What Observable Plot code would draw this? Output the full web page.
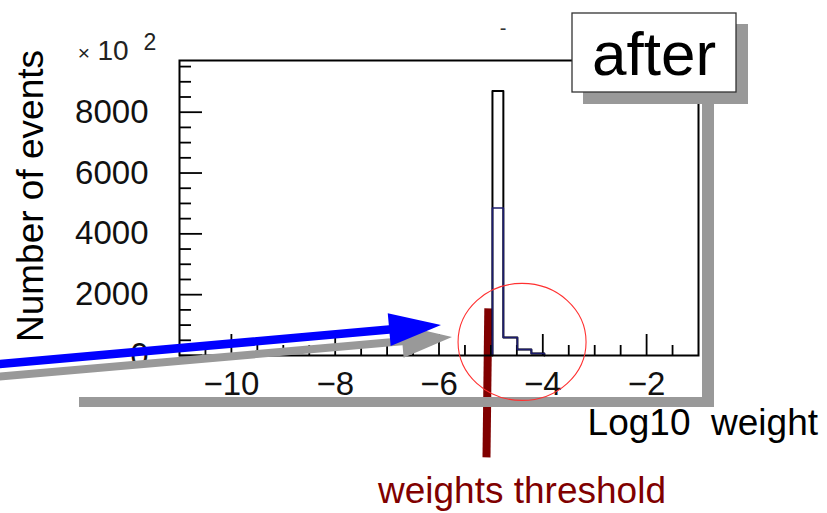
<!DOCTYPE html>
<html>
<head>
<meta charset="utf-8">
<script src="https://cdn.jsdelivr.net/npm/d3@7"></script>
<script src="https://cdn.jsdelivr.net/npm/@observablehq/plot@0.6"></script>
<style>
  html, body { margin: 0; padding: 0; background: #fff; }
  #chart { width: 827px; height: 513px; }
</style>
</head>
<body>
<div id="chart"></div>
<script>
// ---- data ----
const binEdges = [-4.97, -4.76, -4.49, -4.22, -3.97];     // Log10 weight bin edges
const countsAfter = [8700, 590, 197, 66];                  // black histogram
const countsOverlay = [4850, 590, 197, 66];                // navy overlay histogram
const xTicksMajor = [-10, -8, -6, -4, -2];
const xTicksMinor = [-10.5, -9.5, -9, -8.5, -7.5, -7, -6.5, -5.5, -5, -4.5, -3.5, -3, -2.5, -1.5];
const yTicksMajor = [0, 2000, 4000, 6000, 8000];
const yTicksMinor = [500, 1000, 1500, 2500, 3000, 3500, 4500, 5000, 5500, 6500, 7000, 7500, 8500, 9000, 9500];
const thresholdX = [-5.05, -5.085];       // threshold marker (top, bottom) in Log10 weight
const thresholdY = [1550, -3350];
const tailCenter = [-4.39, 430];          // centre of the red ring around the tail

// ---- helpers ----
function stepPoints(edges, counts) {
  const pts = [{x: edges[0], y: 0}];
  counts.forEach((c, i) => pts.push({x: edges[i + 1], y: c}));
  pts.push({x: edges[edges.length - 1], y: 0});
  return pts;
}
const fmt = d => d < 0 ? "\u2212" + Math.abs(d) : String(d);
const FONT = "'Liberation Sans', Arial, Helvetica, sans-serif";

const plot = Plot.plot({
  width: 827,
  height: 513,
  marginLeft: 179,
  marginRight: 129,
  marginTop: 60,
  marginBottom: 158,
  x: {domain: [-11, -1]},
  y: {domain: [0, 9700]},
  style: {fontFamily: FONT, background: "white", color: "black"},
  marks: [
    // threshold marker (behind histogram)
    Plot.link([0], {
      x1: () => thresholdX[0], y1: () => thresholdY[0],
      x2: () => thresholdX[1], y2: () => thresholdY[1],
      stroke: "#800000", strokeWidth: 8
    }),
    // ticks inside the frame
    Plot.axisY(yTicksMajor, {tickSize: 23, dx: 23, fill: "none", strokeWidth: 1.8, label: null}),
    Plot.axisY(yTicksMinor, {tickSize: 12, dx: 12, fill: "none", strokeWidth: 1.8, label: null}),
    Plot.axisX(xTicksMajor, {anchor: "bottom", tickSize: 21, dy: -21, fill: "none", strokeWidth: 1.8, label: null}),
    Plot.axisX(xTicksMinor, {anchor: "bottom", tickSize: 10, dy: -10, fill: "none", strokeWidth: 1.8, label: null}),
    // tick labels
    Plot.axisY(yTicksMajor, {tickSize: 0, tickPadding: 31, fontSize: 33, fill: "#111", tickFormat: fmt, label: null}),
    Plot.axisX(xTicksMajor, {anchor: "bottom", tickSize: 0, tickPadding: 16, fontSize: 33, fill: "#111", tickFormat: fmt, label: null}),
    // histograms
    Plot.line(stepPoints(binEdges, countsAfter), {x: "x", y: "y", curve: "step-before", stroke: "black", strokeWidth: 2}),
    Plot.line(stepPoints(binEdges, countsOverlay), {x: "x", y: "y", curve: "step-before", stroke: "#1c1c6e", strokeWidth: 1.6}),
    Plot.frame({stroke: "black", strokeWidth: 2})
  ]
});

document.getElementById("chart").appendChild(plot);

// ---- decorations (pad shadow, labels, title box, arrows, ring) ----
const svg = d3.select(plot);
const sx = plot.scale("x"), sy = plot.scale("y");
const g = svg.append("g").attr("font-family", FONT);

// pad shadow
g.append("rect").attr("x", 702).attr("y", 100).attr("width", 12).attr("height", 307).attr("fill", "#999");
g.append("rect").attr("x", 79).attr("y", 397).attr("width", 635).attr("height", 10).attr("fill", "#999");

// "after" title box
g.append("rect").attr("x", 583).attr("y", 24).attr("width", 165).attr("height", 80).attr("fill", "#999");
g.append("rect").attr("x", 572).attr("y", 13).attr("width", 164).attr("height", 79)
  .attr("fill", "white").attr("stroke", "#333").attr("stroke-width", 1.3);
g.append("text").attr("x", 654).attr("y", 75).attr("text-anchor", "middle")
  .attr("font-size", 62).attr("fill", "black").text("after");

// small mark at top
g.append("text").attr("x", 503).attr("y", 35).attr("text-anchor", "middle")
  .attr("font-size", 20).attr("fill", "#333").text("-");

// x 10^2 multiplier
g.append("text").attr("x", 84).attr("y", 60).attr("font-size", 21).attr("fill", "#222").text("\u00d7");
g.append("text").attr("x", 113).attr("y", 60).attr("font-size", 28).attr("fill", "#222").text("10");
g.append("text").attr("x", 150).attr("y", 50).attr("font-size", 23).attr("fill", "#222").text("2");

// axis titles
g.append("text").attr("transform", "translate(43,196) rotate(-90)")
  .attr("text-anchor", "middle").attr("font-size", 37).attr("fill", "black").text("Number of events");
g.append("text").attr("x", 818).attr("y", 435).attr("text-anchor", "end")
  .attr("font-size", 37).attr("fill", "black").text("Log10\u00a0 weight");
g.append("text").attr("x", 522).attr("y", 503).attr("text-anchor", "middle")
  .attr("font-size", 37).attr("fill", "#800000").text("weights threshold");

// arrows
function arrowPath(x0, y0, x1, y1, w, hl, hw) {
  const dx = x1 - x0, dy = y1 - y0, L = Math.hypot(dx, dy);
  const ux = dx / L, uy = dy / L, nx = -uy, ny = ux;
  const bx = x1 - ux * hl, by = y1 - uy * hl;
  const p = [
    [x0 + nx * w / 2, y0 + ny * w / 2],
    [bx + nx * w / 2, by + ny * w / 2],
    [bx + nx * hw, by + ny * hw],
    [x1, y1],
    [bx - nx * hw, by - ny * hw],
    [bx - nx * w / 2, by - ny * w / 2],
    [x0 - nx * w / 2, y0 - ny * w / 2]
  ];
  return "M" + p.map(q => q.join(",")).join("L") + "Z";
}
g.append("path").attr("d", arrowPath(-5, 377, 452, 337, 8, 50, 16.5)).attr("fill", "#999");
g.append("path").attr("d", arrowPath(-5, 364.5, 441, 325, 8.5, 52, 16.5)).attr("fill", "#0000ff");

// red ring around tail
g.append("ellipse").attr("cx", sx.apply(tailCenter[0])).attr("cy", sy.apply(tailCenter[1]))
  .attr("rx", 64).attr("ry", 58.5).attr("fill", "none").attr("stroke", "#ff3030").attr("stroke-width", 1.1);
</script>
</body>
</html>
